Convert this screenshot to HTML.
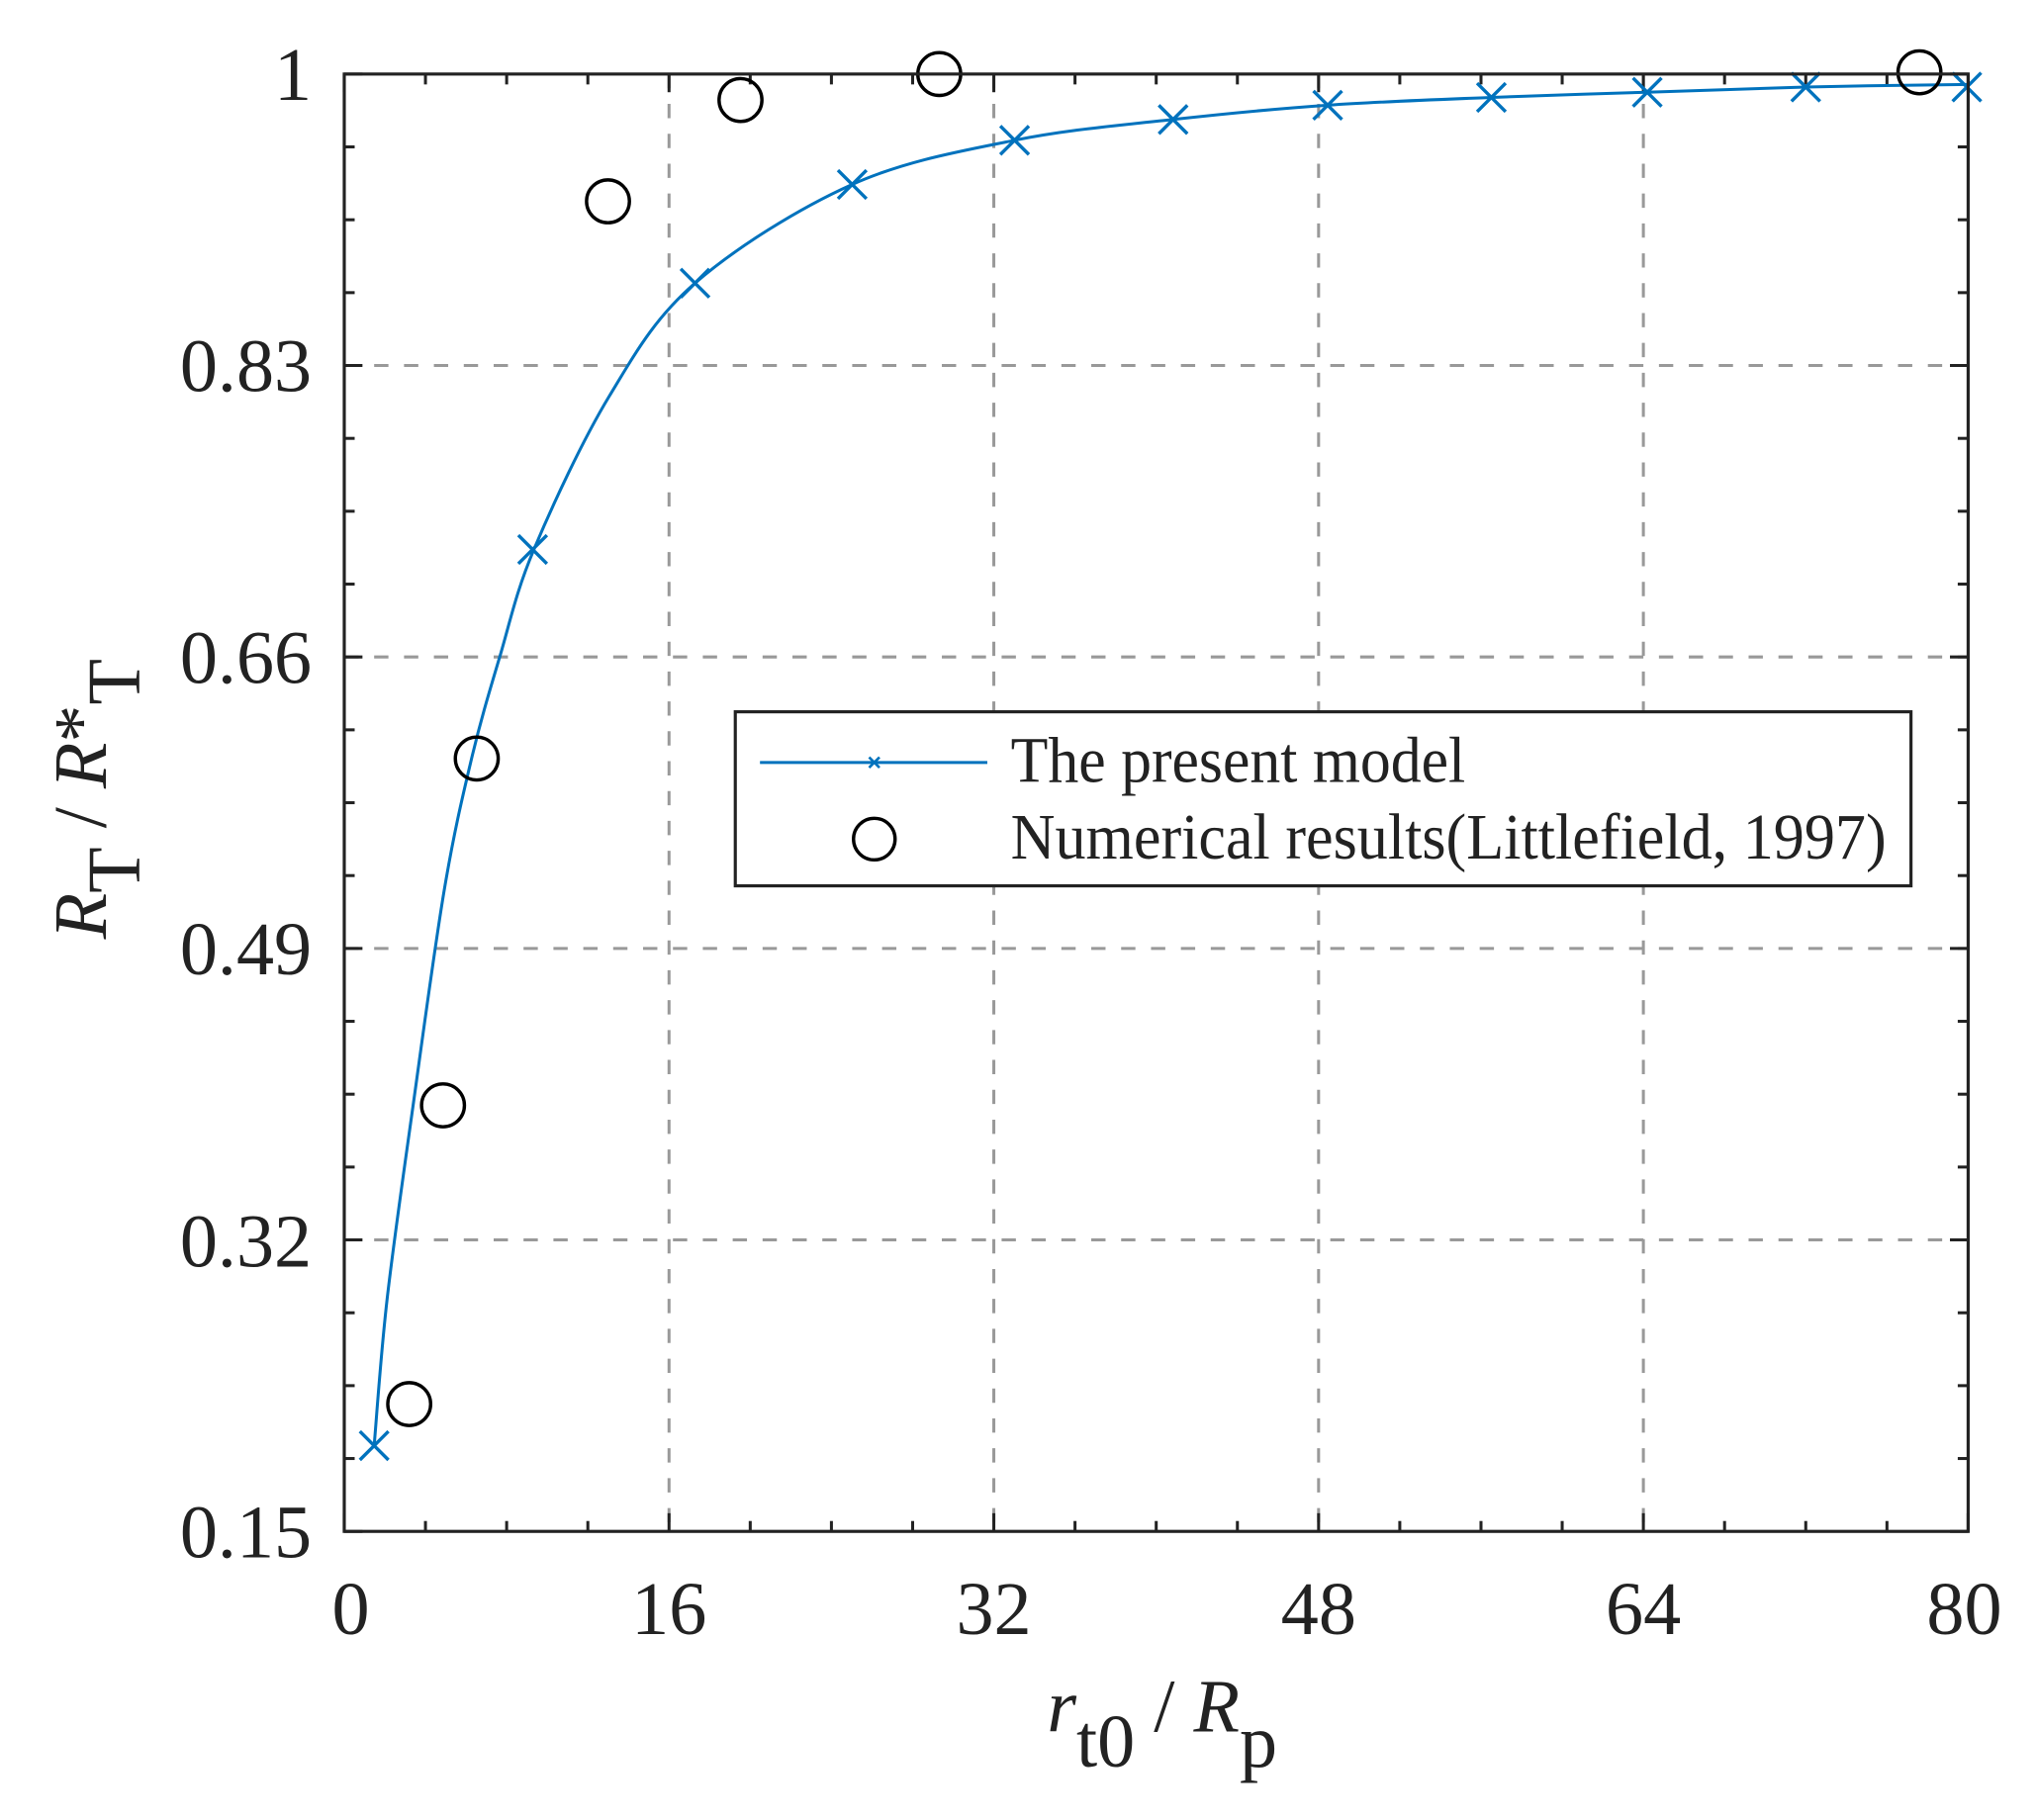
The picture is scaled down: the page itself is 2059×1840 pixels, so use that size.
<!DOCTYPE html>
<html><head><meta charset="utf-8"><style>
html,body{margin:0;padding:0;background:#fff;}
svg{display:block;}
text{font-family:"Liberation Serif",serif;fill:#222;}
</style></head><body>
<svg id="s" width="2059" height="1840" viewBox="0 0 1568 1401.2" preserveAspectRatio="none" xmlns="http://www.w3.org/2000/svg">
<rect width="1568" height="1402" fill="#fff"/>
<g id="grid" stroke="#999" stroke-width="2.3" stroke-dasharray="11 12" fill="none">
<line x1="515" y1="57" x2="515" y2="1179"/>
<line x1="765" y1="57" x2="765" y2="1179"/>
<line x1="1015" y1="57" x2="1015" y2="1179"/>
<line x1="1265" y1="57" x2="1265" y2="1179"/>
<line x1="265" y1="281.4" x2="1515" y2="281.4"/>
<line x1="265" y1="505.8" x2="1515" y2="505.8"/>
<line x1="265" y1="730.2" x2="1515" y2="730.2"/>
<line x1="265" y1="954.6" x2="1515" y2="954.6"/>
</g>
<g id="ticks" stroke="#222" stroke-width="2.3"></g>
<path id="curve" fill="none" stroke="#0072BD" stroke-width="2.3"/>
<g id="xm" stroke="#0072BD" stroke-width="2.6"></g>
<g id="circ" stroke="#000" stroke-width="2.6" fill="none"></g>
<rect x="265" y="57" width="1250" height="1122" fill="none" stroke="#222" stroke-width="2.4"/>
<g font-size="58" text-anchor="end">
<text x="240" y="1199">0.15</text>
<text x="240" y="975">0.32</text>
<text x="240" y="750">0.49</text>
<text x="240" y="526">0.66</text>
<text x="240" y="301">0.83</text>
<text x="240" y="77">1</text>
</g>
<g font-size="58" text-anchor="middle">
<text x="270" y="1258">0</text>
<text x="515" y="1258">16</text>
<text x="765" y="1258">32</text>
<text x="1015" y="1258">48</text>
<text x="1265" y="1258">64</text>
<text x="1512" y="1258">80</text>
</g>
<text x="806" y="1333" font-size="58"><tspan font-style="italic">r</tspan><tspan dy="27">t0</tspan><tspan dy="-27"> / </tspan><tspan font-style="italic">R</tspan><tspan dy="27">p</tspan></text>
<text transform="translate(81.5,723) rotate(-90)" font-size="58"><tspan font-style="italic">R</tspan><tspan dy="26">T</tspan><tspan dy="-26"> / </tspan><tspan font-style="italic">R</tspan><tspan>*</tspan><tspan dy="26">T</tspan></text>
<rect x="566" y="548" width="905" height="134" fill="#fff" stroke="#222" stroke-width="2.4"/>
<line x1="585" y1="587" x2="760" y2="587" stroke="#0072BD" stroke-width="2.3"/>
<path d="M669 583 L677 591 M669 591 L677 583" stroke="#0072BD" stroke-width="2"/>
<circle cx="673" cy="646" r="16" fill="none" stroke="#000" stroke-width="2.6"/>
<text x="778" y="602" font-size="50" textLength="350" lengthAdjust="spacingAndGlyphs">The present model</text>
<text x="778" y="661" font-size="50" textLength="674" lengthAdjust="spacingAndGlyphs">Numerical results(Littlefield, 1997)</text>
</svg>
<script>
var NS="http://www.w3.org/2000/svg";
function el(p,t,a){var e=document.createElementNS(NS,t);for(var k in a)e.setAttribute(k,a[k]);p.appendChild(e);return e;}
var tk=document.getElementById("ticks");
for(var i=0;i<=20;i++){var x=265+i*62.5;var L=(i%4==0)?14:8;
el(tk,"line",{x1:x,y1:1179,x2:x,y2:1179-L});el(tk,"line",{x1:x,y1:57,x2:x,y2:57+L});}
for(var i=0;i<=20;i++){var y=1179-i*56.1;var L=(i%4==0)?14:8;
el(tk,"line",{x1:265,y1:y,x2:265+L,y2:y});el(tk,"line",{x1:1515,y1:y,x2:1515-L,y2:y});}
var P=[[288,1113],[298,1000],[318,851],[342,685],[363,584],[384.6,506],[411,423],[469,305],[535,218],[656,142],[781,108],[903,92],[1022,81],[1148,75],[1268,71],[1390,67],[1515,65]];
var d="M"+P[0][0]+" "+P[0][1];
for(var i=0;i<P.length-1;i++){var p0=P[Math.max(0,i-1)],p1=P[i],p2=P[i+1],p3=P[Math.min(P.length-1,i+2)];
var c1x=p1[0]+(p2[0]-p0[0])/6,c1y=p1[1]+(p2[1]-p0[1])/6,c2x=p2[0]-(p3[0]-p1[0])/6,c2y=p2[1]-(p3[1]-p1[1])/6;
d+=" C"+c1x+" "+c1y+" "+c2x+" "+c2y+" "+p2[0]+" "+p2[1];}
document.getElementById("curve").setAttribute("d",d);
var M=[[288,1113],[410,423],[535,218],[656,142],[781,108],[903,92],[1022,81],[1148,75],[1268,71],[1390,67],[1514,67]];
var xm=document.getElementById("xm");
M.forEach(function(m){var s=11;el(xm,"path",{d:"M"+(m[0]-s)+" "+(m[1]-s)+" L"+(m[0]+s)+" "+(m[1]+s)+" M"+(m[0]-s)+" "+(m[1]+s)+" L"+(m[0]+s)+" "+(m[1]-s)});});
var C=[[315,1081],[341,851],[367,584],[468,155],[570,77],[723,57],[1477.5,55.7]];
var ci=document.getElementById("circ");
C.forEach(function(c){el(ci,"circle",{cx:c[0],cy:c[1],r:16.5});});
</script>
</body></html>
